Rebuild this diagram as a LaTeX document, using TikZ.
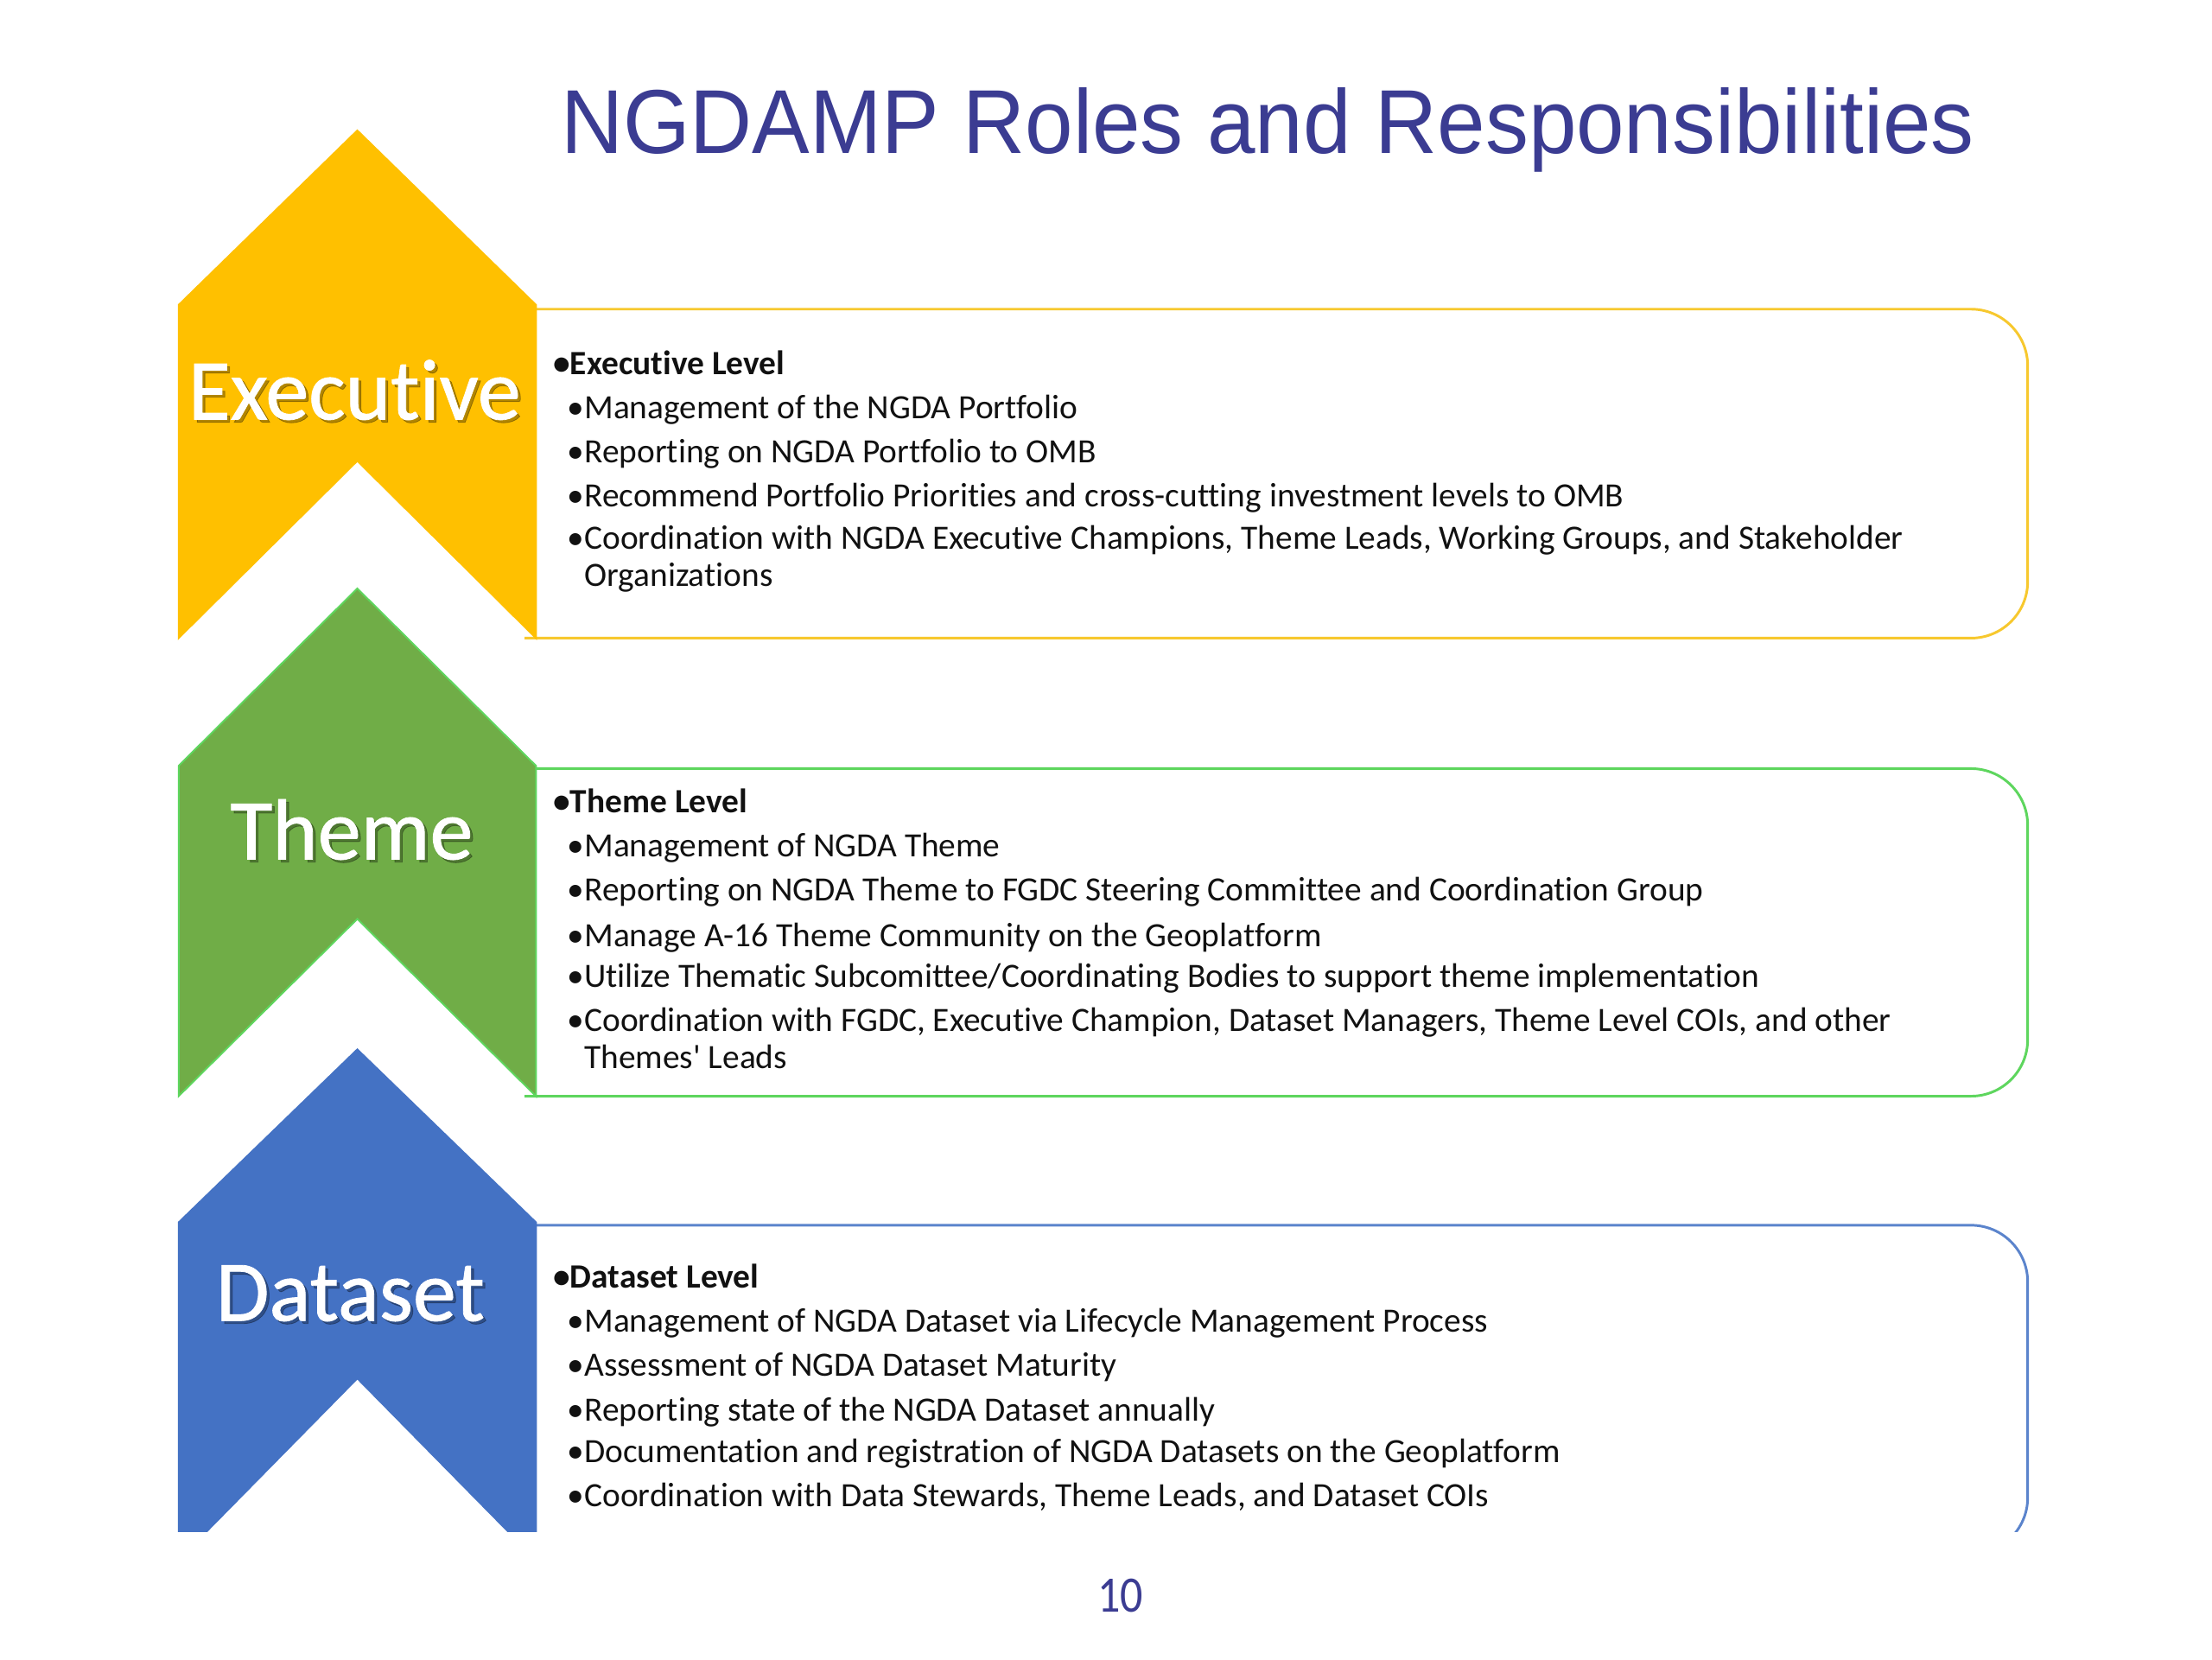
\documentclass[tikz,border=0pt]{standalone}
\usepackage{fontspec}
\setmainfont[Ligatures={NoCommon}]{Carlito}
\newfontfamily\titlefont[FakeStretch=0.95]{Liberation Sans}
\newfontfamily\numfont[FakeStretch=0.88]{Carlito}
\newfontfamily\labelfont[Ligatures={NoCommon},FakeBold=0.8]{Carlito}
\definecolor{exfill}{HTML}{FFC000}
\definecolor{exline}{HTML}{F7C82E}
\definecolor{thfill}{HTML}{70AD47}
\definecolor{thline}{HTML}{5ED65E}
\definecolor{dsfill}{HTML}{4472C4}
\definecolor{dsline}{HTML}{5B84CC}
\definecolor{titleblue}{HTML}{3B3C92}
\definecolor{bodytext}{HTML}{111111}
\begin{document}
\begin{tikzpicture}[x=1pt,y=-1pt,
  box/.style={line width=1.8pt, fill=white, rounded corners=40pt},
  chev/.style={line width=1.2pt, line join=miter},
  lbl/.style={font=\labelfont\fontsize{61}{63}\selectfont, text=white, inner sep=0pt},
  lblshadow/.style={font=\labelfont\fontsize{61}{63}\selectfont, text=black, opacity=0.3, inner sep=0pt},
  head/.style={font=\fontsize{24}{28}\selectfont\bfseries, text=bodytext, anchor=mid west, inner sep=0pt},
  item/.style={font=\fontsize{24}{28}\selectfont, text=bodytext, anchor=mid west, inner sep=0pt}]
\fill[white] (0,0) rectangle (1560,1170);
\useasboundingbox (0,0) rectangle (1560,1170);

% title and page number
\node[font=\titlefont\fontsize{64}{70}\selectfont, text=titleblue, anchor=base, inner sep=0pt] (title) at (894,108) {NGDAMP Roles and Responsibilities};
\node[font=\numfont\fontsize{36}{38}\selectfont, text=titleblue, inner sep=0pt] (pagenum) at (790,1125) {10};

% Executive
\draw[box, draw=exline] (370,218) -- (1430,218) -- (1430,450) -- (370,450);
\filldraw[chev, fill=exfill, draw=exfill] (126,215) -- (252,92) -- (378,215) -- (378,450) -- (252,325) -- (126,450) -- cycle;
\node[lblshadow] (exshadow) at (252,277) {Executive};
\node[lbl] (exlabel) at (250,275) {Executive};
\node[head] (ex0) at (390,262) {•Executive Level};
\node[item] (ex1) at (400,293) {•Management of the NGDA Portfolio};
\node[item] (ex2) at (400,324) {•Reporting on NGDA Portfolio to OMB};
\node[item] (ex3) at (400,355) {•Recommend Portfolio Priorities and cross-cutting investment levels to OMB};
\node[item] (ex4) at (400,385) {•Coordination with NGDA Executive Champions, Theme Leads, Working Groups, and Stakeholder};
\node[item] (ex5) at (400,411) {\phantom{•}Organizations};

% Theme
\draw[box, draw=thline] (370,542) -- (1430,542) -- (1430,773) -- (370,773);
\filldraw[chev, fill=thfill, draw=thline] (126,540) -- (252,415) -- (378,540) -- (378,773) -- (252,648) -- (126,773) -- cycle;
\node[lblshadow] (thshadow) at (250,587) {Theme};
\node[lbl] (thlabel) at (248,585) {Theme};
\node[head] (th0) at (390,571) {•Theme Level};
\node[item] (th1) at (400,602) {•Management of NGDA Theme};
\node[item] (th2) at (400,633) {•Reporting on NGDA Theme to FGDC Steering Committee and Coordination Group};
\node[item] (th3) at (400,665) {•Manage A-16 Theme Community on the Geoplatform};
\node[item] (th4) at (400,694) {•Utilize Thematic Subcomittee/Coordinating Bodies to support theme implementation};
\node[item] (th5) at (400,725) {•Coordination with FGDC, Executive Champion, Dataset Managers, Theme Level COIs, and other};
\node[item] (th6) at (400,751) {\phantom{•}Themes\textquotesingle{} Leads};

% Dataset
\begin{scope}
\clip (0,0) rectangle (1560,1080);
\draw[box, draw=dsline] (370,864) -- (1430,864) -- (1430,1096) -- (370,1096);
\filldraw[chev, fill=dsfill, draw=dsfill] (126,862) -- (252,740) -- (378,862) -- (378,1100) -- (252,972) -- (126,1100) -- cycle;
\end{scope}
\node[lblshadow] (dsshadow) at (249,914) {Dataset};
\node[lbl] (dslabel) at (247,912) {Dataset};
\node[head] (ds0) at (390,906) {•Dataset Level};
\node[item] (ds1) at (400,937) {•Management of NGDA Dataset via Lifecycle Management Process};
\node[item] (ds2) at (400,968) {•Assessment of NGDA Dataset Maturity};
\node[item] (ds3) at (400,1000) {•Reporting state of the NGDA Dataset annually};
\node[item] (ds4) at (400,1029) {•Documentation and registration of NGDA Datasets on the Geoplatform};
\node[item] (ds5) at (400,1060) {•Coordination with Data Stewards, Theme Leads, and Dataset COIs};
\end{tikzpicture}
\end{document}
